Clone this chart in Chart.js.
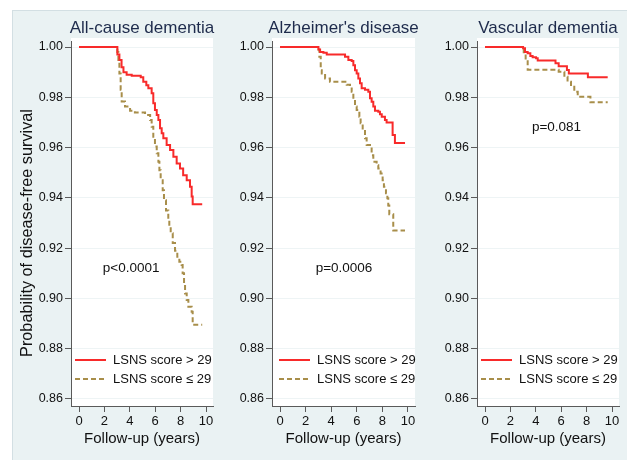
<!DOCTYPE html>
<html lang="en">
<head>
<meta charset="UTF-8" />
<title>LSNS score and dementia-free survival</title>
<script src="https://cdn.jsdelivr.net/npm/chart.js@4.4.1/dist/chart.umd.min.js"></script>
<style>
  body { margin: 0; background: #ffffff; font-family: "Liberation Sans", Arial, sans-serif; }
  #frame { position: absolute; left: 12px; top: 10px; right: 0; bottom: 0; background: #eaf2f3; border-left: 1px solid #d3dfe3; border-top: 1px solid #d3dfe3; }
  canvas { position: absolute; left: 0; top: 0; }
</style>
</head>
<body>
<div id="frame"></div>
<canvas id="c1" width="627" height="460"></canvas>
<canvas id="c2" width="627" height="460"></canvas>
<canvas id="c3" width="627" height="460"></canvas>
<script>
// tick labels
const xTicks = [0, 2, 4, 6, 8, 10];
const yTicks = [0.86, 0.88, 0.90, 0.92, 0.94, 0.96, 0.98, 1.00];
const seriesLabels = ["LSNS score > 29", "LSNS score \u2264 29"];
const panelTitles = ["All-cause dementia", "Alzheimer's disease", "Vascular dementia"];
const pValues = ["p<0.0001", "p=0.0006", "p=0.081"];

// All-cause dementia
const acdTimeHi = [0, 3.02, 3.18, 3.35, 3.5, 3.75, 4.15, 4.86, 5.06, 5.3, 5.46, 5.72, 5.85, 5.98, 6.12, 6.25, 6.38, 6.51, 6.64, 6.9, 7.17, 7.43, 7.69, 7.95, 8.2, 8.48, 8.74, 8.87, 8.95, 9.7];
const acdSurvHi = [1.0, 0.997, 0.9948, 0.992, 0.990, 0.989, 0.9886, 0.988, 0.9862, 0.9848, 0.9836, 0.9816, 0.9776, 0.975, 0.973, 0.971, 0.9677, 0.9657, 0.9637, 0.961, 0.959, 0.9564, 0.9537, 0.9517, 0.949, 0.947, 0.9444, 0.9405, 0.9375, 0.9375];
const acdTimeLo = [0, 3.02, 3.1, 3.18, 3.28, 3.36, 3.62, 4.02, 4.4, 5.2, 5.6, 5.72, 5.85, 5.98, 6.12, 6.25, 6.33, 6.43, 6.59, 6.69, 6.85, 7.03, 7.11, 7.22, 7.38, 7.56, 7.74, 7.9, 8.08, 8.16, 8.27, 8.35, 8.48, 8.61, 8.87, 8.95, 9.7];
const acdSurvLo = [1.0, 0.998, 0.9948, 0.9895, 0.983, 0.9783, 0.9763, 0.9747, 0.974, 0.973, 0.971, 0.9683, 0.9643, 0.9604, 0.9577, 0.9544, 0.951, 0.947, 0.943, 0.939, 0.935, 0.931, 0.9285, 0.9259, 0.922, 0.919, 0.9166, 0.9146, 0.9133, 0.91, 0.906, 0.902, 0.8994, 0.8967, 0.8947, 0.8895, 0.8895];

// Alzheimer's disease
const adTimeHi = [0, 3.0, 3.13, 3.39, 3.65, 5.08, 5.34, 5.6, 5.73, 5.86, 5.99, 6.12, 6.25, 6.38, 6.64, 6.9, 7.03, 7.16, 7.29, 7.42, 7.68, 7.81, 7.95, 8.2, 8.33, 8.8, 8.98, 9.77];
const adSurvHi = [1.0, 0.999, 0.998, 0.9977, 0.997, 0.9961, 0.9948, 0.9944, 0.9928, 0.9908, 0.9895, 0.9875, 0.9856, 0.9836, 0.983, 0.9822, 0.9796, 0.9782, 0.9763, 0.9747, 0.9743, 0.9733, 0.9723, 0.971, 0.970, 0.965, 0.9618, 0.9618];
const adTimeLo = [0, 3.02, 3.07, 3.18, 3.26, 3.52, 3.9, 5.21, 5.47, 5.6, 5.73, 5.86, 5.99, 6.2, 6.3, 6.46, 6.64, 6.77, 7.03, 7.16, 7.29, 7.55, 7.68, 7.86, 8.02, 8.12, 8.28, 8.39, 8.46, 8.54, 8.85, 9.77];
const adSurvLo = [1.0, 0.999, 0.9961, 0.9908, 0.9895, 0.9875, 0.9862, 0.985, 0.9842, 0.9822, 0.979, 0.9763, 0.975, 0.9723, 0.9697, 0.967, 0.9637, 0.961, 0.9603, 0.957, 0.9544, 0.953, 0.9517, 0.9497, 0.947, 0.9444, 0.9418, 0.9398, 0.937, 0.9335, 0.927, 0.927];

// Vascular dementia
const vadTimeHi = [0, 3.0, 3.15, 3.36, 3.57, 3.75, 4.02, 4.15, 5.55, 5.8, 6.45, 6.6, 8.1, 9.66];
const vadSurvHi = [1.0, 0.9995, 0.998, 0.9975, 0.9964, 0.9959, 0.9955, 0.9946, 0.9935, 0.9924, 0.9909, 0.9895, 0.988, 0.988];
const vadTimeLo = [0, 3.05, 3.2, 3.36, 5.8, 6.25, 6.5, 6.77, 7.03, 7.3, 8.3, 9.66];
const vadSurvLo = [1.0, 0.9975, 0.9948, 0.991, 0.9902, 0.9882, 0.9862, 0.9842, 0.9822, 0.9802, 0.978, 0.978];

const toPoints = (ts, vs) => ts.map((t, i) => ({ x: t, y: vs[i] }));

const FONT = '"Liberation Sans", Arial, sans-serif';
const AXIS = "#5a5a5a";

// titles, p-values and legend drawn inside each panel
const panelDecor = {
  id: "panelDecor",
  beforeDraw(chart) {
    const { ctx, chartArea: a } = chart;
    ctx.save();
    ctx.fillStyle = "#ffffff";
    ctx.fillRect(a.left, a.top - 3, a.right - a.left, a.bottom - a.top + 3);
    ctx.restore();
  },
  afterDraw(chart, args, opts) {
    const { ctx, chartArea: a, scales } = chart;
    const cx = (a.left + a.right) / 2;
    ctx.save();
    ctx.textAlign = "center";
    ctx.textBaseline = "middle";
    ctx.font = "17px " + FONT;
    ctx.fillStyle = "#1e2b4c";
    ctx.fillText(opts.title, cx, 28.5);

    ctx.fillStyle = "#111111";
    ctx.font = "15px " + FONT;
    ctx.fillText("Follow-up (years)", cx, 439);

    if (opts.yTitle) {
      ctx.save();
      ctx.translate(27.5, 233);
      ctx.rotate(-Math.PI / 2);
      ctx.font = "16.3px " + FONT;
      ctx.fillText("Probability of disease-free survival", 0, 0);
      ctx.restore();
    }

    ctx.font = "13.5px " + FONT;
    ctx.fillText(opts.pText, scales.x.getPixelForValue(opts.pX), scales.y.getPixelForValue(opts.pY));

    // legend
    ctx.font = "13px " + FONT;
    ctx.textAlign = "left";
    chart.data.datasets.forEach((ds, i) => {
      const y = [360, 379][i];
      const x0 = a.left + opts.legendX;
      ctx.save();
      ctx.strokeStyle = ds.borderColor;
      ctx.lineWidth = ds.borderWidth;
      ctx.setLineDash(ds.borderDash || []);
      ctx.beginPath();
      ctx.moveTo(x0, y);
      ctx.lineTo(x0 + 31, y);
      ctx.stroke();
      ctx.restore();
      ctx.fillStyle = "#111111";
      ctx.fillText(ds.label, x0 + 38, y);
    });
    ctx.restore();
  },
};

function makePanel(id, cfg) {
  const Y_W = 45, X_H = 40;
  new Chart(document.getElementById(id), {
    type: "line",
    data: {
      datasets: [
        {
          label: seriesLabels[0],
          data: toPoints(cfg.tHi, cfg.sHi),
          borderColor: "#f82a2a",
          borderWidth: 2,
          stepped: true,
          pointRadius: 0,
          fill: false,
        },
        {
          label: seriesLabels[1],
          data: toPoints(cfg.tLo, cfg.sLo),
          borderColor: "#a88e4a",
          borderWidth: 2,
          borderDash: [5, 3],
          stepped: true,
          pointRadius: 0,
          fill: false,
        },
      ],
    },
    options: {
      responsive: false,
      animation: false,
      layout: {
        padding: { left: cfg.left - Y_W, right: 627 - cfg.right, top: 41, bottom: 460 - 406 - X_H },
      },
      plugins: {
        legend: { display: false },
        tooltip: { enabled: false },
        panelDecor: cfg.decor,
      },
      scales: {
        x: {
          type: "linear",
          min: -0.63,
          max: 10.55,
          afterBuildTicks: (s) => { s.ticks = xTicks.map((v) => ({ value: v })); },
          afterFit: (s) => { s.height = X_H; },
          grid: { drawOnChartArea: false, drawTicks: true, tickLength: 6, tickColor: AXIS },
          border: { display: true, color: AXIS, width: 1 },
          ticks: { color: "#111", font: { size: 13, family: FONT }, padding: 2, maxRotation: 0 },
        },
        y: {
          type: "linear",
          min: 0.8572,
          max: 1.0024,
          afterBuildTicks: (s) => { s.ticks = yTicks.map((v) => ({ value: v })); },
          afterFit: (s) => { s.width = Y_W; },
          grid: { color: "#eef4f5", drawTicks: true, tickLength: 6, tickColor: AXIS },
          border: { display: true, color: AXIS, width: 1 },
          ticks: {
            color: "#111",
            font: { size: 12.5, family: FONT },
            padding: 2,
            callback: (v) => Number(v).toFixed(2),
          },
        },
      },
    },
    plugins: [panelDecor],
  });
}

makePanel("c1", {
  left: 71, right: 213,
  tHi: acdTimeHi, sHi: acdSurvHi, tLo: acdTimeLo, sLo: acdSurvLo,
  decor: { title: panelTitles[0], pText: pValues[0], pX: 4.1, pY: 0.912, legendX: 4, yTitle: true },
});
makePanel("c2", {
  left: 272, right: 415,
  tHi: adTimeHi, sHi: adSurvHi, tLo: adTimeLo, sLo: adSurvLo,
  decor: { title: panelTitles[1], pText: pValues[1], pX: 5.0, pY: 0.912, legendX: 7, yTitle: false },
});
makePanel("c3", {
  left: 477, right: 619,
  tHi: vadTimeHi, sHi: vadSurvHi, tLo: vadTimeLo, sLo: vadSurvLo,
  decor: { title: panelTitles[2], pText: pValues[2], pX: 5.63, pY: 0.968, legendX: 4, yTitle: false },
});
</script>
</body>
</html>
